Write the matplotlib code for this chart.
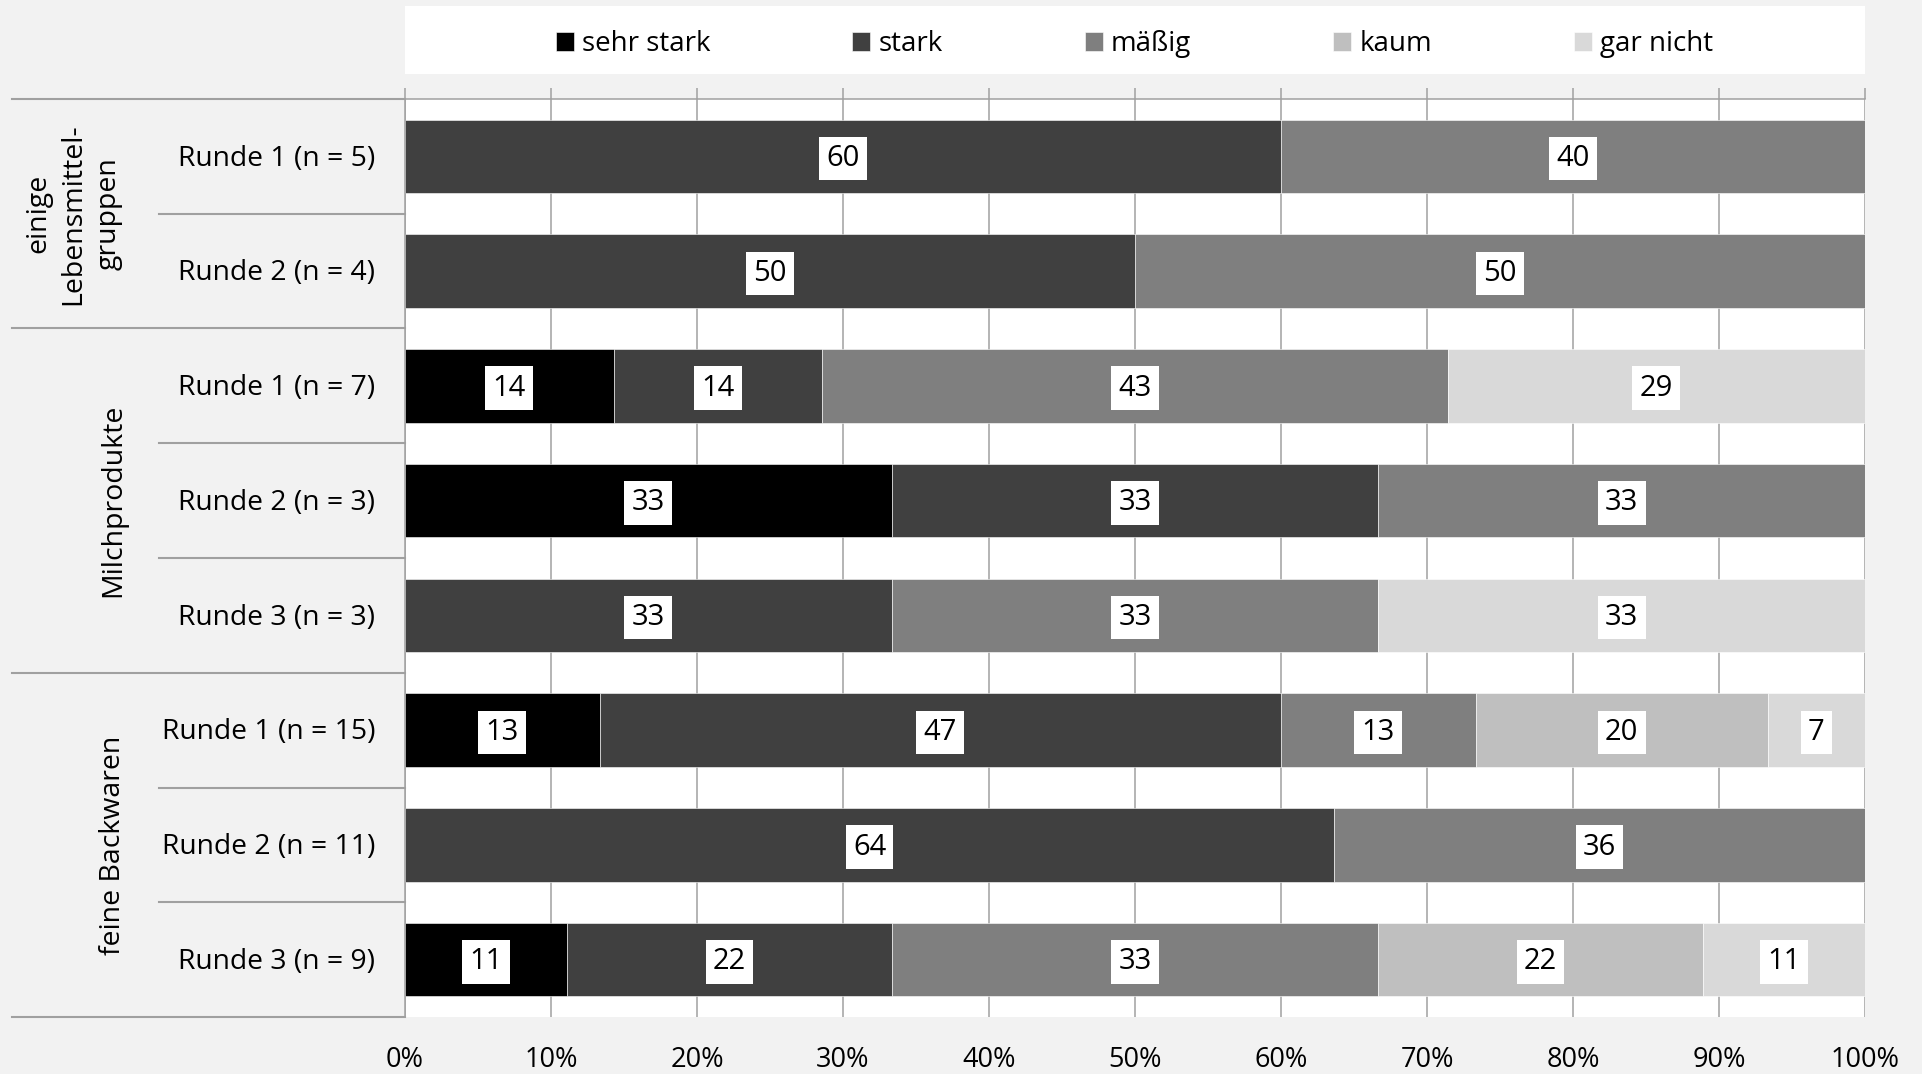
import numpy as np
import matplotlib.pyplot as plt
from matplotlib.patches import Rectangle

plt.rcParams['font.family'] = ['Open Sans', 'DejaVu Sans']

# answer counts per row (n is in the row label)
row_labels = ['Runde 1 (n = 5)', 'Runde 2 (n = 4)',
              'Runde 1 (n = 7)', 'Runde 2 (n = 3)', 'Runde 3 (n = 3)',
              'Runde 1 (n = 15)', 'Runde 2 (n = 11)', 'Runde 3 (n = 9)']
n_total = [5, 4, 7, 3, 3, 15, 11, 9]
groups = ['einige\nLebensmittel-\ngruppen', 'Milchprodukte', 'feine Backwaren']
group_sizes = [2, 3, 3]

series = ['sehr stark', 'stark', 'mäßig', 'kaum', 'gar nicht']
sehr_stark = [0, 0, 1, 1, 0, 2, 0, 1]
stark = [3, 2, 1, 1, 1, 7, 7, 2]
maessig = [2, 2, 3, 1, 1, 2, 4, 3]
kaum = [0, 0, 0, 0, 0, 3, 0, 2]
gar_nicht = [0, 0, 2, 0, 1, 1, 0, 1]
colors = ['#000000', '#404040', '#7f7f7f', '#bfbfbf', '#d9d9d9']

xticks = [0, 10, 20, 30, 40, 50, 60, 70, 80, 90, 100]

W, H = 1922, 1074
fig = plt.figure(figsize=(W / 100, H / 100), dpi=100, facecolor='#f2f2f2')
# plot area in pixels
L, R, T, B = 405, 1865, 99, 1017
ax = fig.add_axes([L / W, 1 - B / H, (R - L) / W, (B - T) / H])
ax.set_facecolor('white')

counts = np.array([sehr_stark, stark, maessig, kaum, gar_nicht], dtype=float)
pct = counts / np.array(n_total) * 100
y = np.arange(len(row_labels))
dy = 0.02  # nudge text down a bit, Open Sans sits high

left = np.zeros(len(row_labels))
handles = []
for i, name in enumerate(series):
    bars = ax.barh(y, pct[i], left=left, height=0.64, color=colors[i],
                   edgecolor='white', linewidth=0.4, label=name, zorder=2)
    handles.append(bars)
    for j, v in enumerate(pct[i]):
        if v > 0:
            ax.text(left[j] + v / 2, y[j] + dy, f'{round(v):d}', ha='center', va='center',
                    fontsize=21, color='black', zorder=4,
                    bbox=dict(facecolor='white', edgecolor='none', boxstyle='square,pad=0.25'))
    left += pct[i]

ax.set_xlim(0, 100)
ax.set_ylim(len(row_labels) - 0.5, -0.5)
ax.set_yticks([])
ax.set_xticks(xticks)
ax.set_xticklabels([f'{t}%' for t in xticks], fontsize=19.5)
ax.tick_params(axis='x', top=True, bottom=False, labeltop=False, labelbottom=True,
               direction='out', length=8, width=1.1, color='#a0a0a0', pad=13)
ax.xaxis.grid(True, color='#a0a0a0', linewidth=1.1, zorder=0)
ax.set_axisbelow(True)
for s in ['right', 'bottom']:
    ax.spines[s].set_visible(False)
for s in ['top', 'left']:
    ax.spines[s].set_color('#a0a0a0')
    ax.spines[s].set_linewidth(1.1)

# row labels and separator lines on the left
tr = ax.get_yaxis_transform()
inner_x = (159 - L) / (R - L)
outer_x = (12 - L) / (R - L)
for j, lab in enumerate(row_labels):
    ax.text(-0.0205, y[j] + dy, lab, transform=tr, ha='right', va='center', fontsize=20.3)

start = 0
for g, size in zip(groups, group_sizes):
    ax.plot([outer_x, 0], [start - 0.5, start - 0.5], transform=tr, color='#a0a0a0',
            lw=1.5, clip_on=False)
    for k in range(1, size):
        ax.plot([inner_x, 0], [start + k - 0.5] * 2, transform=tr, color='#a0a0a0',
                lw=1.5, clip_on=False)
    gx = -0.227 if '\n' in g else -0.2
    ax.text(gx, start + (size - 1) / 2, g, transform=tr, rotation=90, ha='center',
            va='center', multialignment='center', fontsize=20.5, linespacing=1.32)
    start += size
ax.plot([outer_x, 0], [start - 0.5] * 2, transform=tr, color='#a0a0a0', lw=1.5, clip_on=False)

# legend in a white band above the plot
fig.patches.append(Rectangle((L / W, 1 - 74 / H), (R - L) / W, 68 / H,
                             transform=fig.transFigure, facecolor='white', edgecolor='none'))
fig.legend(handles=handles, labels=series, loc='center', ncol=5,
           bbox_to_anchor=(1134.5 / W, 1 - 44 / H), frameon=False, fontsize=20,
           handlelength=0.65, handleheight=0.65, handletextpad=0.3, columnspacing=5.1)

fig.savefig('out.png', dpi=100, facecolor=fig.get_facecolor())
